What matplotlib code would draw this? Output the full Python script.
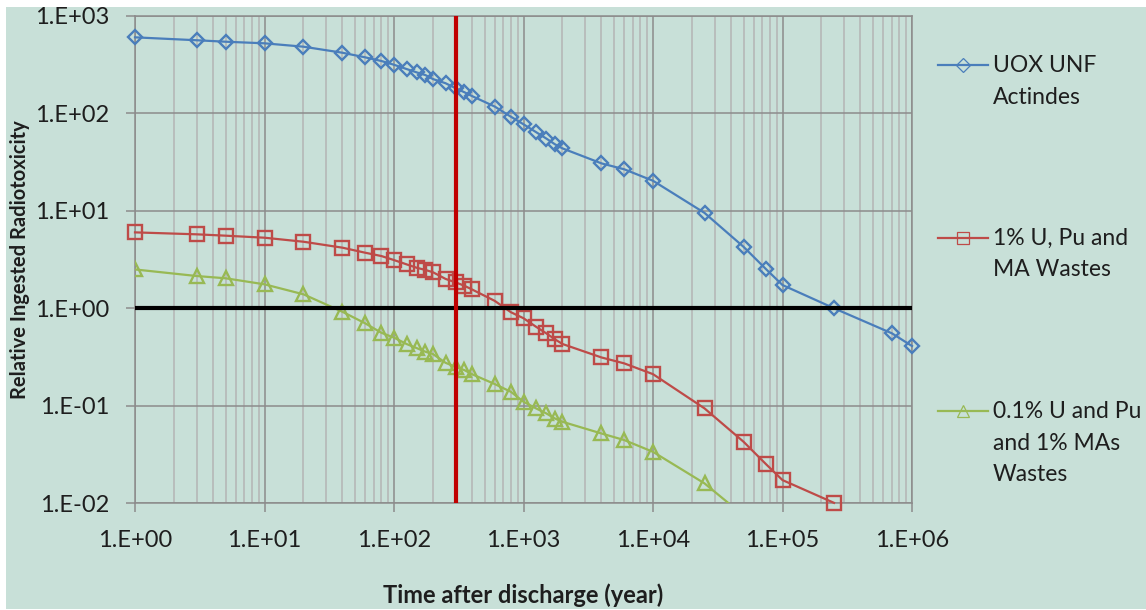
import matplotlib
matplotlib.use("Agg")
import matplotlib.pyplot as plt
from matplotlib.lines import Line2D
from matplotlib.patches import Rectangle
from matplotlib.ticker import LogLocator, FixedLocator, NullFormatter

plt.rcParams['font.family'] = ['Lato', 'DejaVu Sans']

# ---- data ----
years = [1, 3, 5, 10, 20, 40, 60, 80, 100, 125, 150, 175, 200, 250, 300, 350, 400,
         600, 800, 1000, 1250, 1500, 1750, 2000, 4000, 6000, 10000, 25000, 50000,
         75000, 100000, 250000, 700000, 1000000]
uox = [600, 560, 541, 521, 481, 417, 374, 343, 314, 284, 262, 246, 224, 203, 180,
       164, 150, 117, 92, 77, 64, 55, 48, 43.6, 30.6, 26.6, 20.3, 9.5, 4.27, 2.5,
       1.73, 1.0, 0.553, 0.41]
years_red = years[:32]
red = [6.0, 5.73, 5.55, 5.29, 4.81, 4.18, 3.71, 3.43, 3.12, 2.82, 2.6, 2.47, 2.34,
       2.0, 1.84, 1.70, 1.56, 1.19, 0.91, 0.79, 0.646, 0.553, 0.48, 0.43, 0.313,
       0.272, 0.211, 0.094, 0.0428, 0.025, 0.0173, 0.0101]
years_green = years[:31]
green = [2.5, 2.14, 2.03, 1.76, 1.39, 0.92, 0.70, 0.56, 0.50, 0.43, 0.39, 0.358,
         0.339, 0.276, 0.25, 0.232, 0.211, 0.167, 0.139, 0.11, 0.094, 0.0835, 0.074,
         0.0685, 0.052, 0.0445, 0.0337, 0.016, 0.0075, 0.0043, 0.003]
labels = ["UOX UNF\nActindes", "1% U, Pu and\nMA Wastes", "0.1% U and Pu\nand 1% MAs\nWastes"]
ref_level = 1.0
ref_time = 300
x_ticks = [1e0, 1e1, 1e2, 1e3, 1e4, 1e5, 1e6]
x_tick_labels = ["1.E+00", "1.E+01", "1.E+02", "1.E+03", "1.E+04", "1.E+05", "1.E+06"]
y_ticks = [1e-2, 1e-1, 1e0, 1e1, 1e2, 1e3]
y_tick_labels = ["1.E-02", "1.E-01", "1.E+00", "1.E+01", "1.E+02", "1.E+03"]

BG = "#c8e0d8"
BLUE = "#4a7ebb"
RED = "#be4b48"
GREEN = "#98b954"
TXT = "#1e1e1e"

W, H = 1146, 610
fig = plt.figure(figsize=(W / 100, H / 100), dpi=100)
fig.patch.set_facecolor("white")
fig.add_artist(Rectangle((6 / W, 1 / H), 1 - 6 / W, (H - 8) / H,
                         transform=fig.transFigure, facecolor=BG, edgecolor="none", zorder=-10))

ax = fig.add_axes([135 / W, (H - 503.3) / H, (912 - 135) / W, (503.3 - 15.7) / H])
ax.set_facecolor(BG)
ax.set_xscale("log")
ax.set_yscale("log")
ax.set_xlim(1, 1e6)
ax.set_ylim(1e-2, 1e3)

ax.xaxis.set_major_locator(FixedLocator(x_ticks))
ax.yaxis.set_major_locator(FixedLocator(y_ticks))
ax.set_xticklabels(x_tick_labels)
ax.set_yticklabels(y_tick_labels)
ax.xaxis.set_minor_locator(LogLocator(base=10, subs=range(2, 10), numticks=20))
ax.yaxis.set_minor_locator(LogLocator(base=10, subs=range(2, 10), numticks=20))
ax.xaxis.set_minor_formatter(NullFormatter())
ax.yaxis.set_minor_formatter(NullFormatter())

ax.grid(True, which="major", color="#8c8c8c", linewidth=1.1, zorder=0)
ax.grid(True, which="minor", axis="x", color="#b4b4b4", linewidth=1.1, zorder=0)
ax.set_axisbelow(True)

ax.tick_params(axis="both", which="major", direction="out", length=6.5, width=1.1,
               color="#8c8c8c", labelsize=17, labelcolor=TXT)
ax.tick_params(axis="x", which="major", pad=13)
ax.tick_params(axis="y", which="major", pad=12)
ax.tick_params(axis="both", which="minor", length=0)
for s in ax.spines.values():
    s.set_color("#8c8c8c")
    s.set_linewidth(1.1)

kw = dict(fillstyle="none", markeredgewidth=1.7, linewidth=1.6)
ax.plot(years, uox, color=BLUE, marker="D", markersize=7.5, zorder=5, clip_on=False, **kw)
ax.plot(years_red, red, color=RED, marker="s", markersize=9.5, zorder=4, clip_on=False, **kw)
ax.plot(years_green, green, color=GREEN, marker="^", markersize=10, zorder=3, clip_on=True, **kw)

ax.axhline(ref_level, color="black", linewidth=3, zorder=6)
ax.axvline(ref_time, color="#c00000", linewidth=3, zorder=7)

fig.text(523 / W, 1 - 607 / H, "Time after discharge (year)", fontsize=17,
         fontweight="bold", color=TXT, ha="center", va="bottom")
fig.text(20 / W, 1 - 260 / H, "Relative Ingested Radiotoxicity", fontsize=14.5,
         fontweight="bold", color=TXT, ha="center", va="center", rotation=90)

# legend (manual)
leg_y = [65, 237.5, 411]
markers = ["D", "s", "^"]
msz = [7, 9, 9]
colors = [BLUE, RED, GREEN]
for yy, lab, c, m, s in zip(leg_y, labels, colors, markers, msz):
    yf = 1 - yy / H
    fig.add_artist(Line2D([938 / W, 988 / W], [yf, yf], transform=fig.transFigure,
                          color=c, linewidth=1.6))
    fig.add_artist(Line2D([963 / W], [yf], transform=fig.transFigure, color=c,
                          marker=m, markersize=s, fillstyle="none", markeredgewidth=0.9,
                          linestyle="none"))
    fig.text(993 / W, 1 - (yy - 10) / H, lab, fontsize=16.5, color=TXT, va="top",
             ha="left", linespacing=1.62)

fig.savefig("out.png", dpi=100, facecolor=fig.get_facecolor())
